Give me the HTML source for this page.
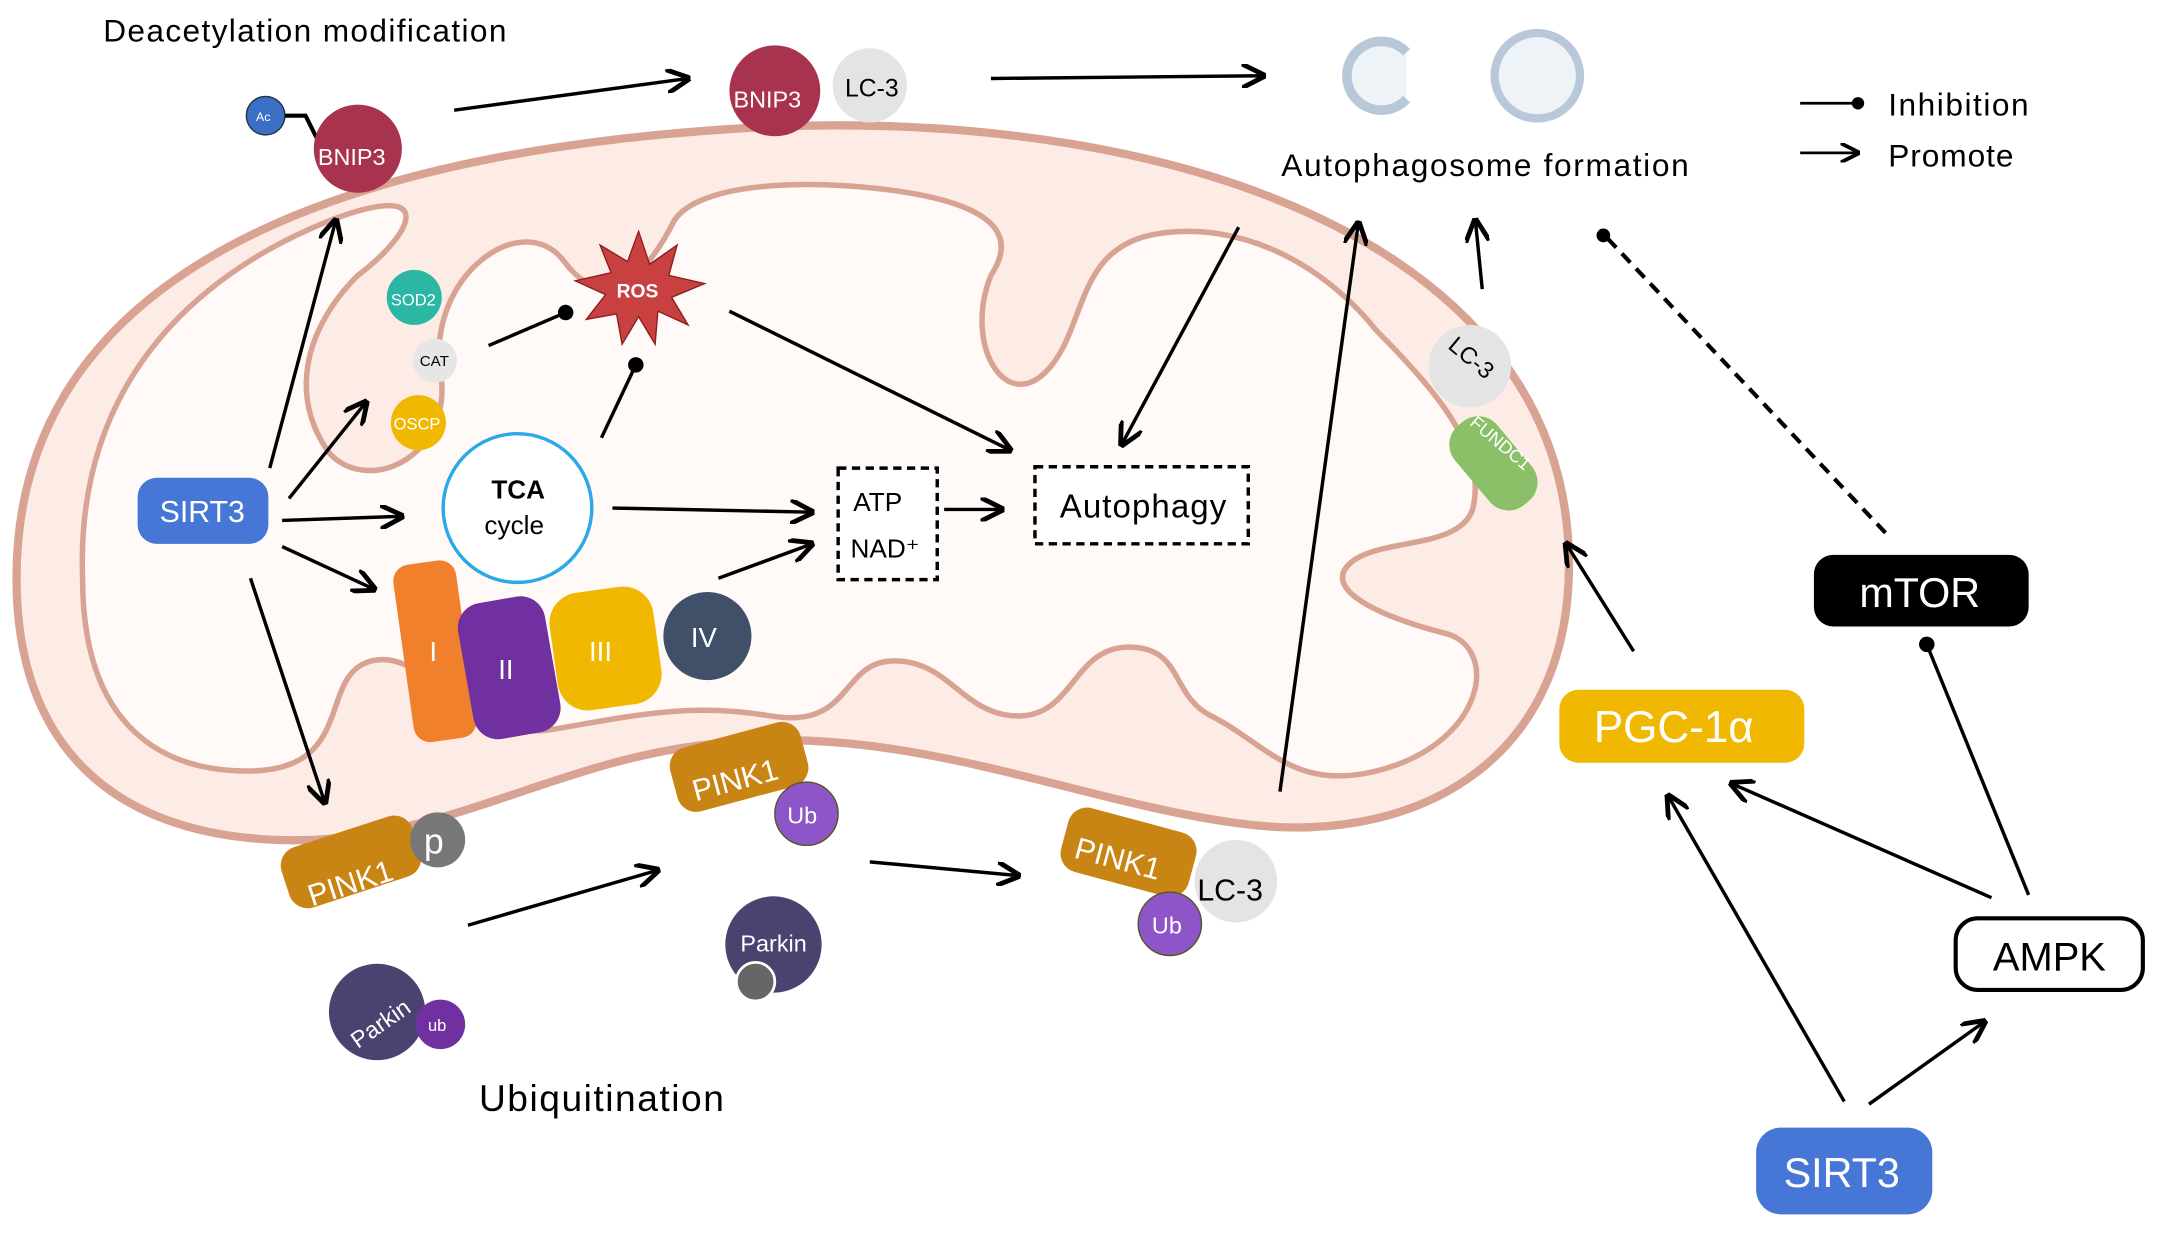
<!DOCTYPE html>
<html><head><meta charset="utf-8"><style>
html,body{margin:0;padding:0;background:#fff;}
svg{display:block;}
text{font-family:"Liberation Sans",sans-serif;}
</style></head><body>
<svg width="2158" height="1235" viewBox="0 0 1568 897" preserveAspectRatio="none" xmlns="http://www.w3.org/2000/svg">
<defs>
<marker id="ar" viewBox="0 0 10 10" refX="9" refY="5" markerWidth="7" markerHeight="7" orient="auto"><path d="M0,0 L10,5 L0,10" fill="none" stroke="#000" stroke-width="2"/></marker>
<marker id="dot" viewBox="0 0 10 10" refX="5" refY="5" markerWidth="5" markerHeight="5" orient="auto"><circle cx="5" cy="5" r="4.5" fill="#000"/></marker>
</defs>
<!-- mitochondrion outer -->
<path d="M12,420 C12,220 200,110 560,92 C860,80 1140,180 1140,410 C1140,560 1020,615 900,598 C780,582 660,525 520,540 C400,552 320,615 200,610 C80,605 12,540 12,420 Z" fill="#fdece6" stroke="#d9a394" stroke-width="6"/>
<!-- inner membrane -->
<path d="M60,420 C55,280 140,200 240,160 C320,130 300,170 260,200 C220,240 210,290 240,330 C270,360 330,330 320,270 C310,200 380,150 410,190 C440,230 470,200 490,160 C510,130 600,130 660,140 C720,150 740,170 720,200 C700,250 730,300 760,270 C790,240 780,180 840,170 C900,160 960,190 1000,240 C1050,290 1080,330 1070,370 C1060,400 1000,390 980,410 C960,430 1010,450 1050,460 C1090,470 1080,540 1000,560 C940,575 920,540 880,520 C850,505 860,470 820,470 C780,470 780,520 740,520 C700,520 690,480 650,480 C610,480 620,530 560,520 C500,510 460,520 400,530 C340,540 310,470 270,480 C230,490 260,560 180,560 C110,560 60,520 60,420 Z" fill="#fffaf8" stroke="#d9a394" stroke-width="4"/>
<!-- texts -->
<text x="75" y="30" font-size="23" textLength="293">Deacetylation modification</text>
<text x="931" y="128" font-size="23" textLength="296">Autophagosome formation</text>
<text x="348" y="807" font-size="27" textLength="178">Ubiquitination</text>
<text x="1372" y="84" font-size="23" textLength="102">Inhibition</text>
<text x="1372" y="121" font-size="23" textLength="91">Promote</text>
<line x1="1308" y1="75" x2="1350" y2="75" stroke="#000" stroke-width="2" marker-end="url(#dot)"/>
<line x1="1308" y1="111" x2="1350" y2="111" stroke="#000" stroke-width="2" marker-end="url(#ar)"/>
<!-- top BNIP3s -->
<circle cx="193" cy="84" r="14" fill="#3a6fc4" stroke="#234"/><text x="186" y="88" font-size="9" fill="#fff">Ac</text>
<path d="M207,84 L222,84 L230,100" stroke="#000" stroke-width="3" fill="none"/>
<circle cx="260" cy="108" r="32" fill="#a8334f"/><text x="231" y="120" font-size="17" fill="#fff">BNIP3</text>
<circle cx="563" cy="66" r="33" fill="#a8334f"/><text x="533" y="78" font-size="17" fill="#fff">BNIP3</text>
<circle cx="632" cy="62" r="27" fill="#e4e4e4"/><text x="614" y="70" font-size="18">LC-3</text>
<!-- autophagosomes -->
<path d="M1022,38 A25,25 0 1,0 1022,72" fill="#eef3f8" stroke="#b8c8d8" stroke-width="7"/>
<circle cx="1117" cy="55" r="31" fill="#eef3f8" stroke="#b8c8d8" stroke-width="6"/>
<!-- SOD2 CAT OSCP -->
<circle cx="301" cy="216" r="20" fill="#2bb7a3"/><text x="284" y="222" font-size="12" fill="#fff">SOD2</text>
<circle cx="316" cy="262" r="16" fill="#e6e6e6"/><text x="305" y="266" font-size="11">CAT</text>
<circle cx="304" cy="307" r="20" fill="#f0b800"/><text x="286" y="312" font-size="12" fill="#fff">OSCP</text>
<!-- ROS -->
<polygon points="464,168 472,192 492,178 486,200 512,206 488,216 500,236 478,226 476,250 464,230 452,250 448,228 426,232 440,214 418,204 444,198 436,178 456,190" fill="#c94040" stroke="#8a2020"/>
<text x="448" y="216" font-size="14" font-weight="bold" fill="#fff">ROS</text>
<!-- TCA -->
<circle cx="376" cy="369" r="54" fill="#fff" stroke="#2aa9e6" stroke-width="2.5"/>
<text x="357" y="362" font-size="19" font-weight="bold">TCA</text><text x="352" y="388" font-size="19">cycle</text>
<!-- SIRT3 -->
<rect x="100" y="347" width="95" height="48" rx="14" fill="#4676d6"/><text x="116" y="379" font-size="22" fill="#fff">SIRT3</text>
<!-- complexes -->
<rect x="293" y="408" width="46" height="130" rx="12" fill="#f0802c" transform="rotate(-8 316 473)"/><text x="312" y="480" font-size="20" fill="#fff">I</text>
<rect x="338" y="435" width="64" height="100" rx="18" fill="#7030a0" transform="rotate(-10 370 485)"/><text x="362" y="493" font-size="20" fill="#fff">II</text>
<rect x="402" y="428" width="76" height="86" rx="22" fill="#f0b800" transform="rotate(-8 440 471)"/><text x="428" y="480" font-size="20" fill="#fff">III</text>
<circle cx="514" cy="462" r="32" fill="#3f5068"/><text x="502" y="470" font-size="20" fill="#fff">IV</text>
<!-- ATP NAD -->
<rect x="609" y="340" width="72" height="81" fill="#fff" stroke="#000" stroke-width="2.5" stroke-dasharray="6,4"/>
<text x="620" y="371" font-size="19">ATP</text><text x="618" y="405" font-size="19">NAD⁺</text>
<rect x="752" y="339" width="155" height="56" fill="#fff" stroke="#000" stroke-width="2.5" stroke-dasharray="6,4"/>
<text x="770" y="376" font-size="24" textLength="121">Autophagy</text>
<!-- LC3 FUNDC1 -->
<circle cx="1068" cy="266" r="30" fill="#e4e4e4"/><text x="1046" y="265" font-size="17" transform="rotate(40 1066 266)">LC-3</text>
<rect x="1060" y="290" width="40" height="75" rx="18" fill="#8cc068" transform="rotate(-40 1095 325)"/><text x="1063" y="330" font-size="13" fill="#fff" transform="rotate(40 1095 325)">FUNDC1</text>
<!-- PINK1s -->
<rect x="205" y="603" width="100" height="46" rx="14" fill="#c88514" transform="rotate(-18 255 626)"/><text x="218" y="648" font-size="22" fill="#fff" transform="rotate(-18 255 626)">PINK1</text>
<circle cx="318" cy="610" r="20" fill="#777"/><text x="308" y="620" font-size="26" fill="#fff">p</text>
<rect x="488" y="533" width="98" height="48" rx="14" fill="#c88514" transform="rotate(-15 537 557)"/><text x="500" y="573" font-size="22" fill="#fff" transform="rotate(-15 537 557)">PINK1</text>
<circle cx="586" cy="591" r="23" fill="#8e55c8" stroke="#552" /><text x="572" y="598" font-size="17" fill="#fff">Ub</text>
<rect x="772" y="595" width="96" height="48" rx="14" fill="#c88514" transform="rotate(15 820 619)"/><text x="782" y="633" font-size="22" fill="#fff" transform="rotate(15 820 619)">PINK1</text>
<circle cx="898" cy="640" r="30" fill="#e4e4e4"/><text x="870" y="654" font-size="22">LC-3</text>
<circle cx="850" cy="671" r="23" fill="#8e55c8" stroke="#552"/><text x="837" y="678" font-size="17" fill="#fff">Ub</text>
<!-- Parkins -->
<circle cx="562" cy="686" r="35" fill="#4b4270"/><text x="538" y="691" font-size="17" fill="#fff">Parkin</text>
<circle cx="549" cy="713" r="14" fill="#666" stroke="#fff" stroke-width="2"/>
<circle cx="274" cy="735" r="35" fill="#4b4270"/><text x="250" y="750" font-size="17" fill="#fff" transform="rotate(-35 274 740)">Parkin</text>
<circle cx="320" cy="744" r="18" fill="#7030a0"/><text x="311" y="749" font-size="12" fill="#fff">ub</text>
<!-- right nodes -->
<rect x="1133" y="501" width="178" height="53" rx="14" fill="#f0b800"/><text x="1158" y="539" font-size="32" fill="#fff">PGC-1α</text>
<rect x="1318" y="403" width="156" height="52" rx="14" fill="#000"/><text x="1351" y="441" font-size="30" fill="#fff">mTOR</text>
<rect x="1421" y="667" width="136" height="52" rx="16" fill="#fff" stroke="#000" stroke-width="3"/><text x="1448" y="705" font-size="29">AMPK</text>
<rect x="1276" y="819" width="128" height="63" rx="18" fill="#4676d6"/><text x="1296" y="862" font-size="30" fill="#fff">SIRT3</text>
<!-- arrows -->
<g stroke="#000" stroke-width="2.5" fill="none" marker-end="url(#ar)">
<line x1="330" y1="80" x2="500" y2="57"/>
<line x1="720" y1="57" x2="918" y2="55"/>
<line x1="196" y1="340" x2="244" y2="160"/>
<line x1="210" y1="362" x2="266" y2="292"/>
<line x1="205" y1="378" x2="292" y2="375"/>
<line x1="205" y1="397" x2="272" y2="428"/>
<line x1="182" y1="420" x2="236" y2="583"/>
<line x1="445" y1="369" x2="590" y2="372"/>
<line x1="522" y1="420" x2="590" y2="395"/>
<line x1="686" y1="370" x2="728" y2="370"/>
<line x1="530" y1="226" x2="734" y2="327"/>
<line x1="900" y1="165" x2="815" y2="323"/>
<line x1="930" y1="575" x2="987" y2="162"/>
<line x1="1077" y1="210" x2="1072" y2="160"/>
<line x1="1187" y1="473" x2="1138" y2="395"/>
<line x1="340" y1="672" x2="478" y2="632"/>
<line x1="632" y1="626" x2="740" y2="636"/>
<line x1="1340" y1="800" x2="1212" y2="578"/>
<line x1="1447" y1="652" x2="1258" y2="569"/>
<line x1="1358" y1="802" x2="1442" y2="742"/>
</g>
<g stroke="#000" stroke-width="2.5" marker-end="url(#dot)">
<line x1="355" y1="251" x2="411" y2="227"/>
<line x1="437" y1="318" x2="462" y2="265"/>
<line x1="1474" y1="650" x2="1400" y2="468"/>
</g>
<line x1="1370" y1="387" x2="1166" y2="171" stroke="#000" stroke-width="3" stroke-dasharray="9,6"/>
<circle cx="1165" cy="171" r="5" fill="#000"/>
</svg>
</body></html>
